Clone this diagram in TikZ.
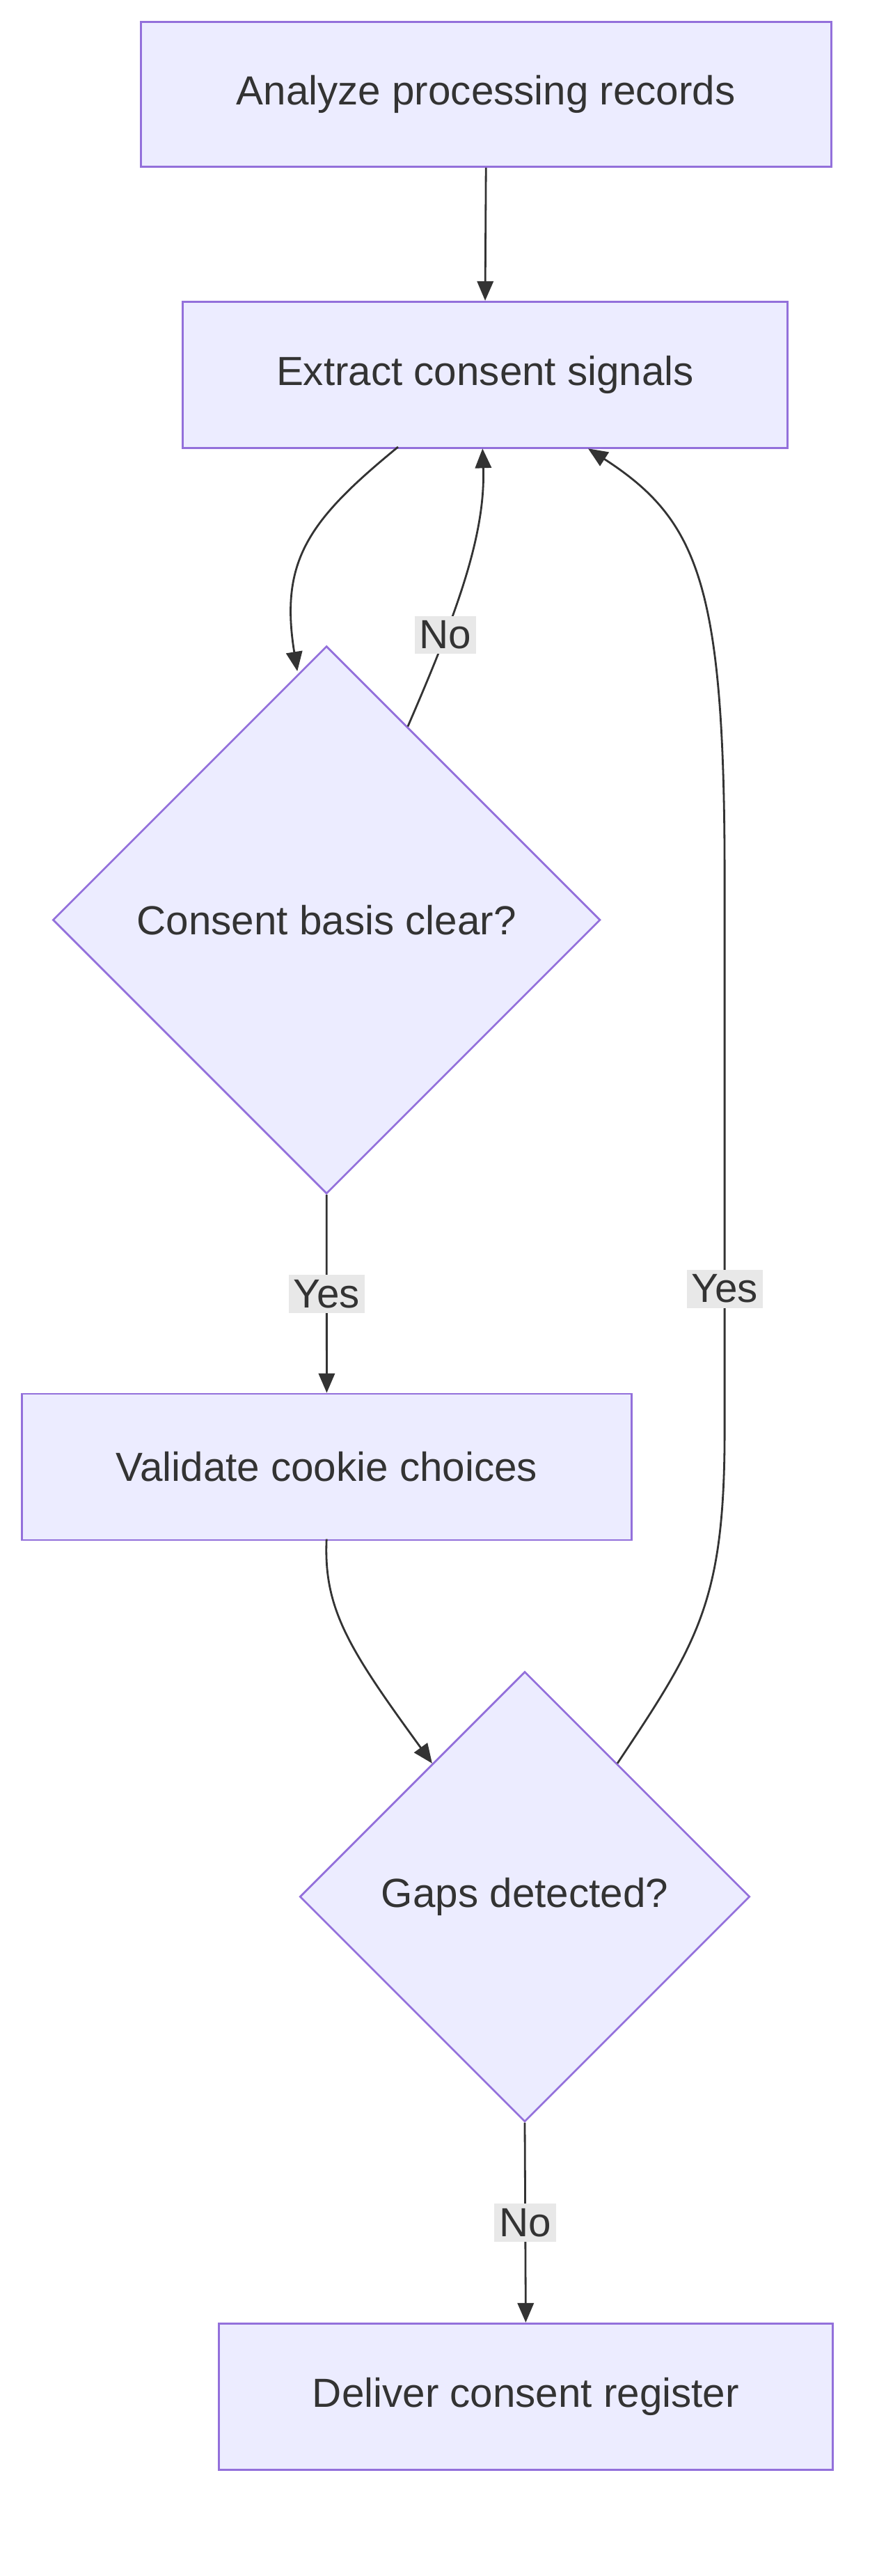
\documentclass[tikz,border=0pt]{standalone}
\usepackage{fontspec}
\setmainfont{Liberation Sans}
\usetikzlibrary{shapes.geometric,arrows.meta}
\definecolor{nfill}{HTML}{ECECFF}
\definecolor{nline}{HTML}{9370DB}
\definecolor{txt}{HTML}{333333}
\definecolor{lbl}{HTML}{E8E8E8}
\begin{document}
\begin{tikzpicture}[x=1pt,y=-1pt,
  box/.style={draw=nline,fill=nfill,line width=1.2pt,rectangle,anchor=north west,inner sep=0pt,text=txt,font=\fontsize{25}{30}\selectfont},
  dia/.style={draw=nline,fill=nfill,line width=1.2pt,diamond,inner sep=0pt,text=txt,font=\fontsize{25}{30}\selectfont},
  ed/.style={draw=txt,line width=1.2pt,-{Triangle[length=12pt,width=10pt]}},
  lab/.style={fill=lbl,text=txt,inner sep=3pt,font=\fontsize{25}{30}\selectfont}]
\useasboundingbox (0,0) rectangle (545,1585);
\node[box,minimum width=425pt,minimum height=89pt] (a) at (86,13) {Analyze processing records};
\node[box,minimum width=372pt,minimum height=90pt] (b) at (112,185) {Extract consent signals};
\node[dia,minimum width=337pt,minimum height=337pt] (c) at (201,566) {Consent basis clear?};
\node[box,minimum width=375pt,minimum height=90pt] (d) at (13,857) {Validate cookie choices};
\node[dia,minimum width=277pt,minimum height=277pt] (e) at (323,1167) {Gaps detected?};
\node[box,minimum width=378pt,minimum height=90pt] (f) at (134,1429) {Deliver consent register};
\coordinate (b1) at (245,275);
\coordinate (c1) at (183,413);
\coordinate (c2) at (251,447);
\coordinate (b2) at (297,276);
\coordinate (b3) at (362,276);
\coordinate (d1) at (201,947);
\coordinate (e1) at (266,1085);
\coordinate (e2) at (380,1085);
\draw[ed] (a.south) -- (b.north);
\draw[ed] (b1) .. controls (190,320) and (172,345) .. (c1);
\draw[ed] (c2) .. controls (280,380) and (299,330) .. (b2) node[lab,pos=0.3] {No};
\draw[ed] (c.south) -- node[lab] {Yes} (d.north);
\draw[ed] (d1) .. controls (199,990) and (215,1015) .. (e1);
\draw[ed] (e2) .. controls (430,1010) and (446,985) .. (446,880) -- (446,540) .. controls (446,360) and (430,320) .. (b3);
\node[lab] (y2) at (446,793) {Yes};
\draw[ed] (e.south) -- node[lab] {No} (f.north);
\end{tikzpicture}
\end{document}
